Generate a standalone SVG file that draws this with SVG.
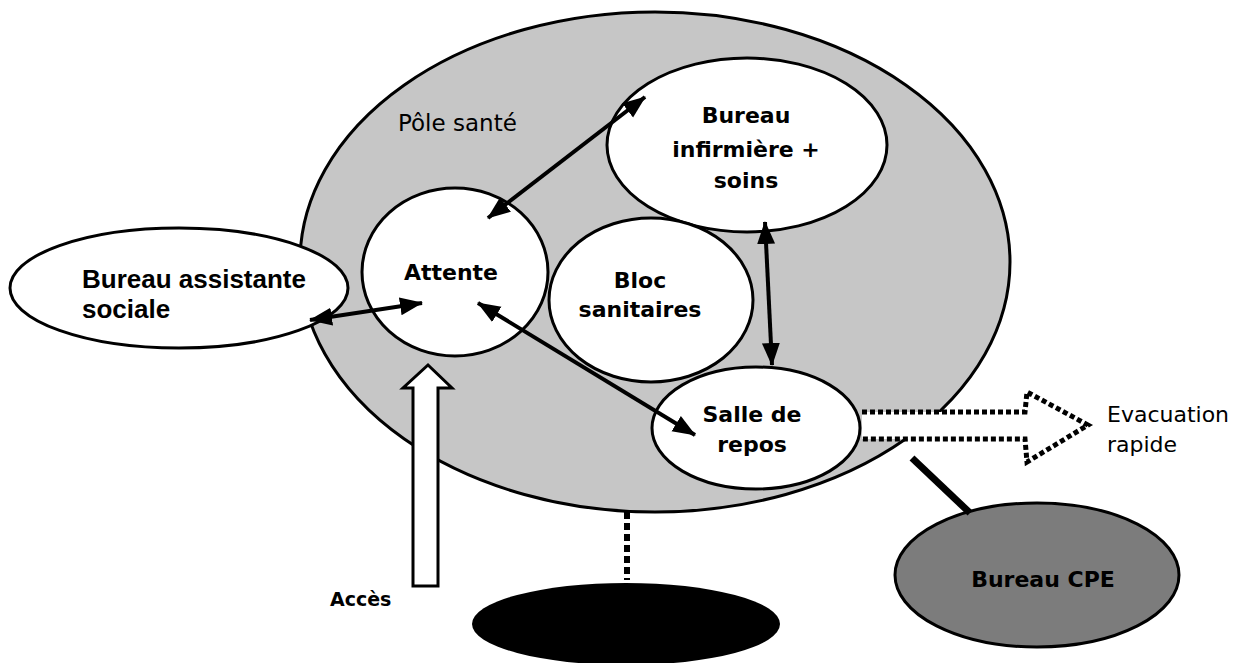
<svg xmlns="http://www.w3.org/2000/svg" width="1237" height="663" viewBox="0 0 1237 663">
<style>
.room{fill:#ffffff;stroke:#000;stroke-width:3}
.lbl{font-family:"DejaVu Sans",Verdana,sans-serif;font-weight:bold;font-size:22px;fill:#000;text-anchor:middle}
.arr{stroke:#000;stroke-width:4;fill:none;marker-start:url(#ah);marker-end:url(#ah)}
</style>
<defs>
<marker id="ah" markerUnits="userSpaceOnUse" markerWidth="24" markerHeight="20" viewBox="0 0 24 20" refX="22" refY="10" orient="auto-start-reverse">
<path d="M0,1 L23,10 L0,19 Z" fill="#000"/>
</marker>
</defs>
<rect width="1237" height="663" fill="#fff"/>
<g id="pole-sante">
<ellipse cx="655" cy="262" rx="355" ry="250" fill="#c6c6c6" stroke="#000" stroke-width="3"/>
<text x="398" y="131" font-family="DejaVu Sans,Verdana,sans-serif" font-size="23" fill="#000">Pôle santé</text>
</g>
<g id="bureau-infirmiere">
<ellipse class="room" cx="747" cy="145" rx="140" ry="87"/>
<text class="lbl" x="746" y="123">Bureau</text>
<text class="lbl" x="746" y="157">infirmière +</text>
<text class="lbl" x="746" y="188">soins</text>
</g>
<g id="attente">
<ellipse class="room" cx="455" cy="272" rx="93" ry="84"/>
<text class="lbl" x="451" y="280" font-size="23">Attente</text>
</g>
<g id="bloc-sanitaires">
<ellipse class="room" cx="651" cy="300" rx="102" ry="82"/>
<text class="lbl" x="640" y="288">Bloc</text>
<text class="lbl" x="640" y="317">sanitaires</text>
</g>
<g id="salle-repos">
<ellipse class="room" cx="756" cy="428" rx="104" ry="61"/>
<text class="lbl" x="752" y="422">Salle de</text>
<text class="lbl" x="752" y="452">repos</text>
</g>
<g id="bureau-assistante">
<ellipse class="room" cx="179" cy="288" rx="169" ry="60" stroke-width="2.5"/>
<text x="82" y="288" font-family="Liberation Sans,Arial,sans-serif" font-weight="bold" font-size="26" fill="#000">Bureau assistante</text>
<text x="82" y="318" font-family="Liberation Sans,Arial,sans-serif" font-weight="bold" font-size="26" fill="#000">sociale</text>
</g>
<g id="bureau-cpe">
<ellipse cx="1037" cy="575" rx="142" ry="72" fill="#7c7c7c" stroke="#000" stroke-width="3"/>
<text class="lbl" x="1043" y="587" fill="#1a1a1a" font-size="22.5">Bureau CPE</text>
</g>
<g id="noir">
<ellipse cx="626" cy="624" rx="154" ry="41" fill="#000"/>
</g>
<g id="acces">
<polygon points="428,365 452,388 438,388 438,586 413,586 413,388 403,388" fill="#fff" stroke="#000" stroke-width="3" stroke-linejoin="miter"/>
<text x="330" y="606" font-family="DejaVu Sans,Verdana,sans-serif" font-weight="bold" font-size="19" fill="#000">Accès</text>
</g>
<g id="evacuation">
<path d="M862,412 L1025,412 L1027,392 L1088,425 L1027,462 L1025,439 L862,439" fill="#fff" stroke="#000" stroke-width="5" stroke-dasharray="5 3"/>
<text x="1107" y="422" font-family="DejaVu Sans,Verdana,sans-serif" font-size="22" fill="#000">Evacuation</text>
<text x="1107" y="452" font-family="DejaVu Sans,Verdana,sans-serif" font-size="22" fill="#000">rapide</text>
</g>
<g id="connectors">
<line class="arr" x1="488" y1="218" x2="645" y2="97"/>
<line class="arr" x1="310" y1="320" x2="422" y2="303" stroke-width="3"/>
<line class="arr" x1="478" y1="303" x2="695" y2="435"/>
<line class="arr" x1="765" y1="222" x2="772" y2="365"/>
<line x1="912" y1="458" x2="970" y2="513" stroke="#000" stroke-width="7"/>
<line x1="627" y1="512" x2="627" y2="580" stroke="#000" stroke-width="6" stroke-dasharray="7 4"/>
</g>
</svg>
